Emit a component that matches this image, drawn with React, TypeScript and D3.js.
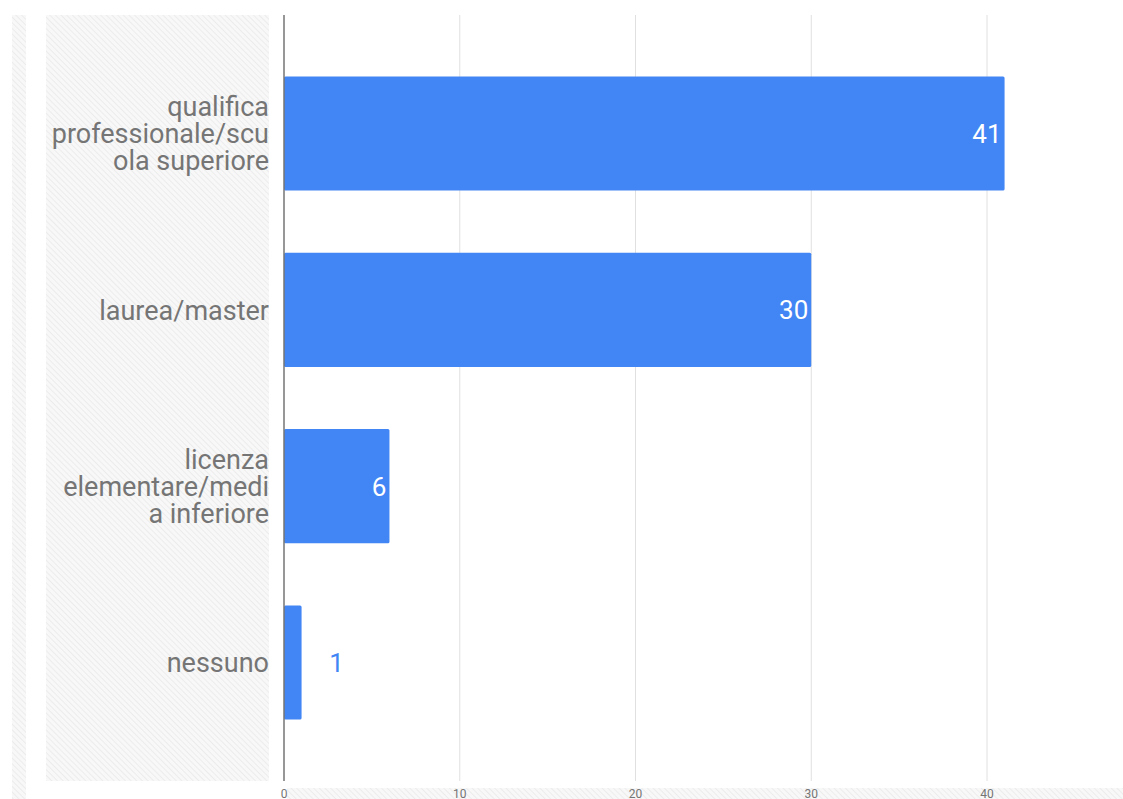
import React from "react";
import * as d3 from "d3";

const categories = [
  "qualifica professionale/scuola superiore",
  "laurea/master",
  "licenza elementare/media inferiore",
  "nessuno",
];
const labelLines = [
  ["qualifica", "professionale/scu", "ola superiore"],
  ["laurea/master"],
  ["licenza", "elementare/medi", "a inferiore"],
  ["nessuno"],
];
const values = [41, 30, 6, 1];
const ticks = [0, 10, 20, 30, 40];

const W = 1123;
const H = 799;
const BLUE = "#4285f4";

export default function App() {
  const x = d3.scaleLinear().domain([0, 40]).range([284, 987]);
  const y = d3
    .scaleBand<string>()
    .domain(categories)
    .range([15, 781])
    .paddingInner(0.353)
    .paddingOuter(0.349);

  const lineH = 27;

  return (
    <svg
      width={W}
      height={H}
      style={{ position: "fixed", left: 0, top: 0, fontFamily: "Roboto, sans-serif" }}
    >
      <defs>
        <pattern id="hatch" width="4" height="4" patternUnits="userSpaceOnUse" patternTransform="rotate(-45)">
          <rect width="4" height="4" fill="#f8f8f8" />
          <line x1="0" y1="0" x2="0" y2="4" stroke="#e8e8e8" strokeWidth="1.5" />
        </pattern>
      </defs>
      <rect width={W} height={H} fill="#fff" />
      {/* hatched padding areas */}
      <rect x={12} y={15} width={14} height={H - 15} fill="url(#hatch)" />
      <rect x={46} y={15} width={223} height={766} fill="url(#hatch)" />
      <rect x={287} y={788} width={W - 287} height={H - 788} fill="url(#hatch)" />

      {ticks.slice(1).map((t) => (
        <line key={t} x1={x(t)} x2={x(t)} y1={15} y2={781} stroke="#e0e0e0" strokeWidth={1} />
      ))}

      {categories.map((c, i) => {
        const y0 = y(c)!;
        const bw = y.bandwidth();
        const cy = y0 + bw / 2;
        const v = values[i];
        const inside = x(v) - x(0) > 40;
        const lines = labelLines[i];
        const startY = cy - ((lines.length - 1) * lineH) / 2;
        return (
          <g key={c}>
            <rect x={x(0)} y={y0} width={x(v) - x(0)} height={bw} fill={BLUE} rx={1.5} />
            <text
              x={inside ? x(v) - 3 : x(v) + 35}
              y={cy}
              dy="0.36em"
              textAnchor={inside ? "end" : "middle"}
              fill={inside ? "#fff" : BLUE}
              fontSize={26}
            >
              {v}
            </text>
            <text textAnchor="end" fill="#757575" fontSize={27}>
              {lines.map((l, j) => (
                <tspan key={j} x={269} y={startY + j * lineH} dy="0.36em">
                  {l}
                </tspan>
              ))}
            </text>
          </g>
        );
      })}

      <line x1={x(0)} x2={x(0)} y1={15} y2={781} stroke="#757575" strokeWidth={1.5} />

      {ticks.map((t) => (
        <text key={t} x={x(t)} y={798} textAnchor="middle" fill="#757575" fontSize={12}>
          {t}
        </text>
      ))}
    </svg>
  );
}
